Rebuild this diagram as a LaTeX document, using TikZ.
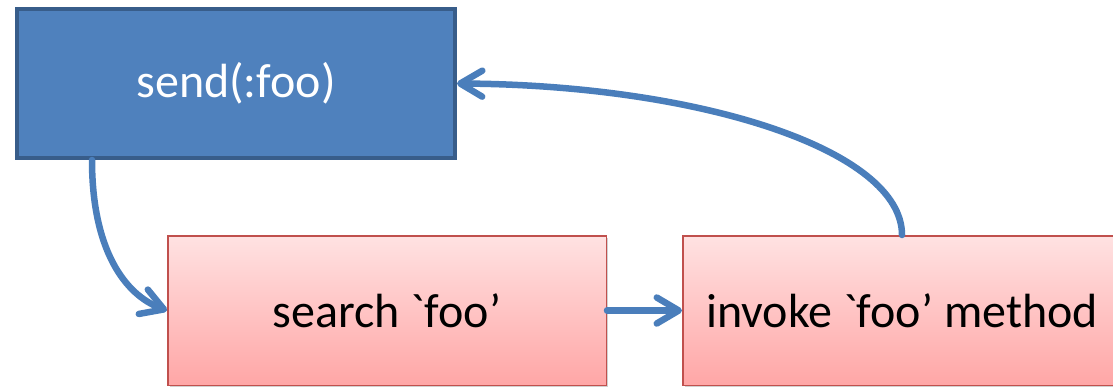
\documentclass[tikz,border=0pt]{standalone}
\usepackage{fontspec}
\setmainfont{Carlito}
\usetikzlibrary{arrows.meta,shadows}
\definecolor{boxblue}{HTML}{4F81BD}
\definecolor{boxblueborder}{HTML}{385D8A}
\definecolor{arrowblue}{HTML}{4A7EBB}
\definecolor{pinktop}{HTML}{FFE2E2}
\definecolor{pinkbottom}{HTML}{FFA6A6}
\definecolor{pinkborder}{HTML}{C0504D}
\tikzset{
  bluebox/.style={draw=boxblueborder, line width=4pt, fill=boxblue, text=white,
    minimum width=438pt, minimum height=149pt, inner sep=0pt,
    font=\fontsize{48}{57}\selectfont},
  pinkbox/.style={draw=pinkborder, line width=1.5pt, top color=pinktop, bottom color=pinkbottom,
    minimum width=438.5pt, minimum height=149.5pt, inner sep=0pt, text=black,
    drop shadow={shadow xshift=2pt, shadow yshift=-2pt, opacity=0.18, fill=black},
    font=\fontsize{48}{57}\selectfont},
  flow/.style={draw=arrowblue, line width=6.5pt, line cap=round,
    -{Straight Barb[length=22pt, width=26pt, round]}}
}
\begin{document}
\begin{tikzpicture}[x=1pt, y=-1pt]
\useasboundingbox (0,0) rectangle (1113,388);
\clip (0,0) rectangle (1113,388);
\node[bluebox] (send) at (236,83.5) {send(:foo)};
\node[pinkbox] (search) at (387,310.5) {search \textasciigrave foo’};
\node[pinkbox] (invoke) at (902,310.5) {invoke \textasciigrave foo’ method};
\coordinate (s1) at (92,160);
\coordinate (i1) at (902,235);
\draw[flow] (s1) .. controls (92,250) and (125,295) .. (search.west);
\draw[flow] (search.east) -- (invoke.west);
\draw[flow] (i1) .. controls (902,150) and (700,85) .. (send.east);
\end{tikzpicture}
\end{document}
